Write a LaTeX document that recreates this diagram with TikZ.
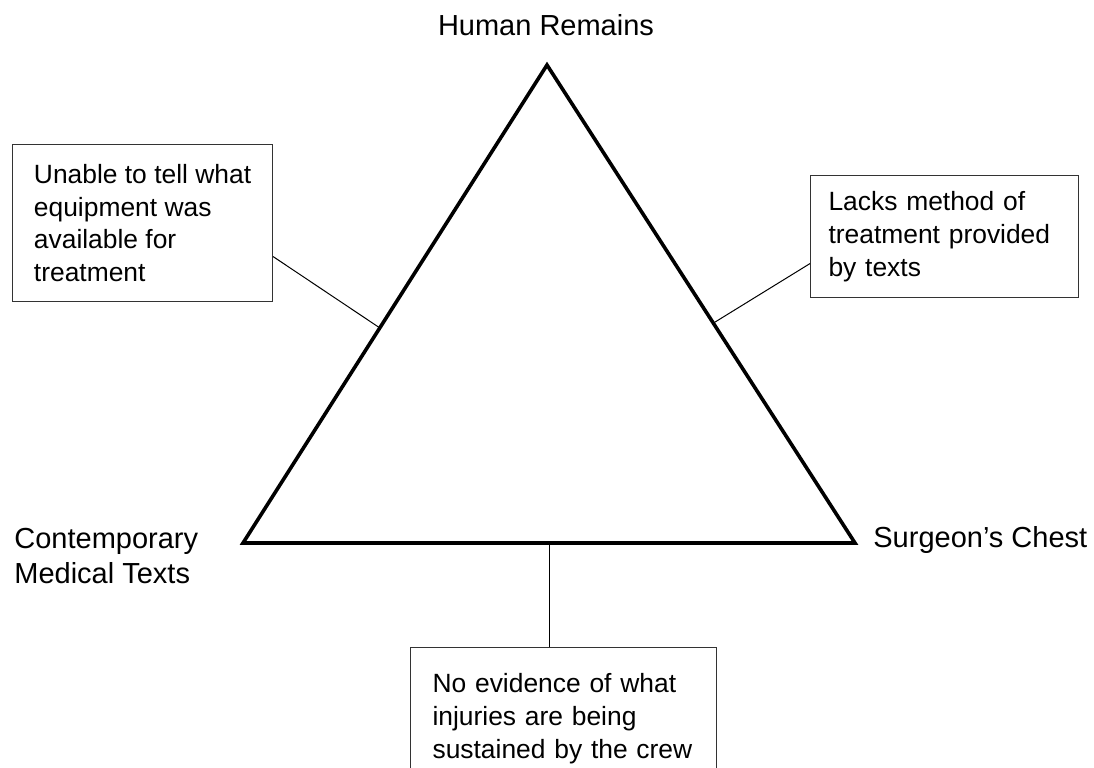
\documentclass[tikz,border=0pt]{standalone}
\usepackage{fontspec}
\setmainfont{Liberation Sans}
\usepackage{tikz}
\usetikzlibrary{calc}
\tikzset{
    corner/.style={inner sep=0pt, font=\fontsize{14.5}{17.5}\selectfont},
    notebox/.style={draw=black!80, line width=0.55pt, align=left, inner ysep=0pt,
        font=\fontsize{13.2}{16.4}\selectfont, anchor=north west},
    link/.style={line width=0.5pt},
    side/.style={line width=1.8pt}
}
\begin{document}
\begin{tikzpicture}[x=0.5pt, y=-0.5pt]
		\useasboundingbox (0,0) rectangle (1094,767);
		% corners of the triangle
		\coordinate (top) at (547,65);
		\coordinate (bl) at (243,543);
		\coordinate (br) at (855,543);
		\draw[side] (top) -- (bl) -- (br) -- cycle;
		
		\node[corner, anchor=base] (remains) at (546,35) {Human Remains};
		\node[corner, anchor=north west, align=left] (texts) at (14,528) {Contemporary\\Medical Texts};
		\node[corner, anchor=base west] (chest) at (873,547) {Surgeon’s Chest};
		
		% notes on each side
		\node[notebox, minimum width=130pt, minimum height=78.5pt] (leftnote) at (12,144)
			{Unable to tell what\\equipment was\\available for\\treatment};
		\node[notebox, inner xsep=9pt, text width=116pt, minimum height=61pt] (rightnote) at (810,175)
			{Lacks method of\\treatment provided\\by texts};
		\node[notebox, inner xsep=11pt, text width=131pt, text height=22.5pt, text depth=70pt] (bottomnote) at (410,647)
			{No evidence of what\\injuries are being\\sustained by the crew};
		
		\coordinate (lefthit) at ($(bl)!0.45!(top)$);
		\coordinate (righthit) at ($(br)!0.46!(top)$);
		\coordinate (bottomhit) at ($(bl)!0.5!(br)$);
		\draw[link] ($(leftnote.east)+(0,33.5)$) -- (lefthit);
		\draw[link] ($(rightnote.west)+(0,27)$) -- (righthit);
		\draw[link] (bottomhit) -- (bottomhit |- bottomnote.north);
\end{tikzpicture}
\end{document}
